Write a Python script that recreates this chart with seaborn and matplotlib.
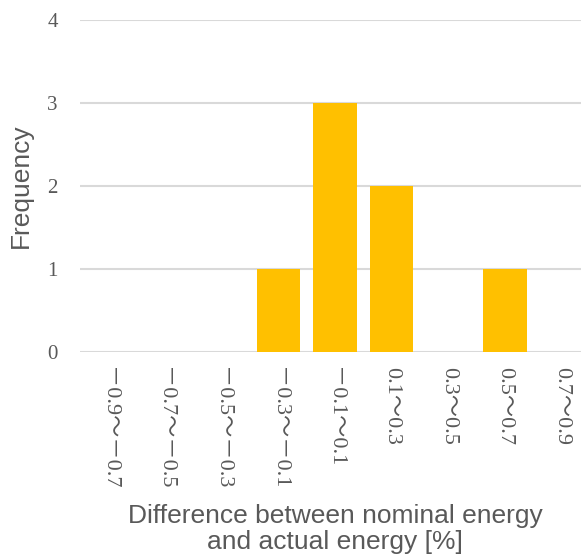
import matplotlib
matplotlib.use("Agg")
import matplotlib.pyplot as plt
import pandas as pd
import seaborn as sns

# histogram bins (full-width minus / wave dash as in the original sheet)
bins = ["－0.9～－0.7", "－0.7～－0.5", "－0.5～－0.3", "－0.3～－0.1", "－0.1～0.1",
        "0.1～0.3", "0.3～0.5", "0.5～0.7", "0.7～0.9"]
counts = [0, 0, 0, 1, 3, 2, 0, 1, 0]
y_ticks = [0, 1, 2, 3, 4]

TEXT = "#595959"
BAR = "#FFC000"
GRID = "#D9D9D9"
TICK_FONT = ["Liberation Serif", "Noto Sans CJK JP", "DejaVu Sans"]

sns.set_theme(style="white")
plt.rcParams["font.family"] = ["Liberation Sans", "DejaVu Sans"]

df = pd.DataFrame({"bin": bins, "count": counts})

fig = plt.figure(figsize=(5.81, 5.54), dpi=100)
ax = fig.add_axes([80 / 581, 202 / 554, 510 / 581, 332 / 554])

sns.barplot(data=df, x="bin", y="count", color=BAR, saturation=1, width=0.765,
            linewidth=0, ax=ax)

ax.set_ylim(0, 4)
ax.set_yticks(y_ticks)
ax.set_axisbelow(True)
ax.yaxis.grid(True, color=GRID, linewidth=1.5)
ax.xaxis.grid(False)
for side in ["top", "right", "left", "bottom"]:
    ax.spines[side].set_visible(False)

ax.tick_params(axis="both", length=0, labelcolor=TEXT)
ax.tick_params(axis="x", pad=11, labelsize=16)
ax.tick_params(axis="y", pad=16, labelsize=15)
ax.set_xticks(range(len(bins)))
ax.set_xticklabels(bins, rotation=-90)
for lbl in ax.get_xticklabels() + ax.get_yticklabels():
    lbl.set_fontfamily(TICK_FONT)

ax.set_xlabel("Difference between nominal energy\nand actual energy [%]",
              fontsize=19, color=TEXT, labelpad=10, linespacing=1.1)
ax.set_ylabel("Frequency", fontsize=19, color=TEXT)
ax.yaxis.set_label_coords(-47 / 510, 0.5)

fig.savefig("out.png", dpi=100)
